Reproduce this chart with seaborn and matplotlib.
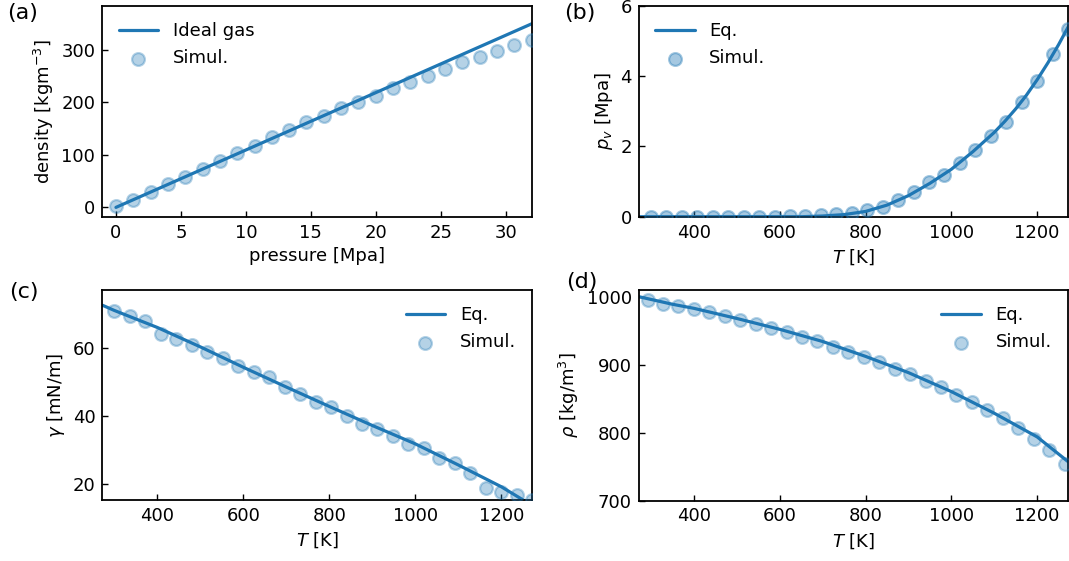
import matplotlib
matplotlib.use("Agg")
import matplotlib.pyplot as plt
import seaborn as sns
import pandas as pd

# ---------------- data ----------------
# (a) density vs pressure
pressure_sim = [0, 1.33, 2.67, 4, 5.33, 6.67, 8, 9.33, 10.67, 12, 13.33, 14.67, 16,
                17.33, 18.67, 20, 21.33, 22.67, 24, 25.33, 26.67, 28, 29.33, 30.67, 32]
density_sim = [3, 15, 29, 44.5, 58.5, 74, 89, 103, 117.6, 133.5, 147.5, 162, 175,
               189, 201, 213, 227, 240, 251, 264, 276.5, 287, 299, 310, 319]
pressure_line = [0, 32]
density_ideal = [0, 350]

# (b) vapour pressure vs T
T_sim = [300, 336, 372, 408, 444, 480, 516, 552, 588, 624, 660, 696, 732, 768,
         804, 840, 876, 912, 948, 984, 1020, 1056, 1092, 1128, 1164, 1200, 1236, 1272]
pv_sim = [0, 0, 0, 0, 0, 0, 0, 0, 0, 0.02, 0.02, 0.04, 0.07, 0.12,
          0.19, 0.28, 0.47, 0.69, 0.99, 1.19, 1.54, 1.90, 2.30, 2.71, 3.28, 3.87, 4.63, 5.35]
T_line_b = [273, 650, 700, 750, 800, 850, 900, 950, 1000, 1050, 1100, 1125, 1150,
            1175, 1200, 1225, 1250, 1273]
pv_line = [0, 0, 0.02, 0.06, 0.15, 0.33, 0.60, 0.95, 1.35, 1.85, 2.40, 2.72, 3.07,
           3.46, 3.90, 4.38, 4.90, 5.42]

# (c) surface tension vs T
gamma_sim = [70.8, 69.3, 67.8, 64.2, 62.7, 60.8, 58.8, 56.9, 54.6, 53.0, 51.5, 48.4,
             46.4, 44.1, 42.7, 40.0, 37.5, 36.1, 34.1, 31.7, 30.5, 27.5, 26.2, 23.1,
             18.7, 17.7, 16.9, 15.2]
T_line_c = [273, 300, 400, 500, 600, 700, 800, 900, 1000, 1100, 1200, 1273]
gamma_line = [72.5, 71.0, 66.0, 60.3, 54.3, 48.5, 42.8, 37.2, 31.8, 25.6, 19.2, 13.6]

# (d) liquid density vs T
T_sim_d = [292, 328, 364, 400, 436, 472, 508, 544, 580, 616, 652, 688, 724, 760,
           796, 832, 868, 904, 940, 976, 1012, 1048, 1084, 1120, 1156, 1192, 1228, 1264]
rho_sim = [996, 991, 988, 983, 978, 973, 967, 961, 955, 949, 942, 935, 927, 920,
           912, 904, 895, 887, 877, 867, 856, 845, 834, 822, 807, 791, 775, 754]
T_line_d = [273, 350, 400, 500, 600, 700, 800, 900, 1000, 1100, 1200, 1273]
rho_line = [1001, 990, 984, 969, 953, 935, 913, 889, 861, 829, 794, 757]

# ---------------- style ----------------
sns.set_theme(style="ticks")
plt.rcParams.update({
    "font.family": ["DejaVu Sans"],
    "font.size": 13,
    "axes.labelsize": 13,
    "xtick.labelsize": 13,
    "ytick.labelsize": 13,
    "legend.fontsize": 13,
    "xtick.direction": "in",
    "ytick.direction": "in",
    "xtick.major.size": 4.5,
    "ytick.major.size": 4.5,
    "xtick.major.width": 1.0,
    "ytick.major.width": 1.0,
    "xtick.major.pad": 5,
    "ytick.major.pad": 5,
    "axes.edgecolor": "black",
    "axes.linewidth": 1.3,
    "xtick.color": "black",
    "ytick.color": "black",
    "axes.labelcolor": "black",
    "text.color": "black",
    "mathtext.fontset": "dejavusans",
})

blue = "#1f77b4"
fig = plt.figure(figsize=(10.69, 5.61), dpi=100)
ax_a = fig.add_axes([0.0957, 0.6137, 0.4022, 0.3756])
ax_b = fig.add_axes([0.5977, 0.6137, 0.4014, 0.3756])
ax_c = fig.add_axes([0.0957, 0.1087, 0.4022, 0.3743])
ax_d = fig.add_axes([0.5977, 0.1078, 0.4014, 0.3752])


def draw(ax, xl, yl, line_label, xs, ys, alpha=0.33):
    sns.lineplot(x=xl, y=yl, ax=ax, color=blue, linewidth=2.3, label=line_label,
                 sort=False)
    sns.scatterplot(x=xs, y=ys, ax=ax, color=blue, edgecolor=blue, linewidth=1.6,
                    alpha=alpha, s=85, label="Simul.", zorder=3)


draw(ax_a, pressure_line, density_ideal, "Ideal gas", pressure_sim, density_sim)
ax_a.set_xlim(-1.05, 32.05)
ax_a.set_ylim(-17.8, 384)
ax_a.set_xticks([0, 5, 10, 15, 20, 25, 30])
ax_a.set_yticks([0, 100, 200, 300])
ax_a.set_xlabel("pressure [Mpa]")
ax_a.set_ylabel("density [kgm$^{-3}$]")
ax_a.legend(loc="upper left", frameon=False, handlelength=2.2)

draw(ax_b, T_line_b, pv_line, "Eq.", T_sim, pv_sim, alpha=0.4)
ax_b.set_ylim(0, 6)
ax_b.set_yticks([0, 2, 4, 6])
ax_b.set_ylabel("$p_v$ [Mpa]")
ax_b.legend(loc="upper left", frameon=False, handlelength=2.2)

draw(ax_c, T_line_c, gamma_line, "Eq.", T_sim, gamma_sim)
ax_c.set_ylim(15.3, 77)
ax_c.set_yticks([20, 40, 60])
ax_c.set_ylabel("$\\gamma$ [mN/m]")
ax_c.legend(loc="upper right", frameon=False, handlelength=2.2)

draw(ax_d, T_line_d, rho_line, "Eq.", T_sim_d, rho_sim)
ax_d.set_ylim(700, 1011)
ax_d.set_yticks([700, 800, 900, 1000])
ax_d.set_ylabel("$\\rho$ [kg/m$^3$]")
ax_d.legend(loc="upper right", frameon=False, handlelength=2.2)

for ax in (ax_b, ax_c, ax_d):
    ax.set_xlim(272, 1272)
    ax.set_xticks([400, 600, 800, 1000, 1200])
    ax.set_xlabel("$T$ [K]")

for ax in (ax_a, ax_b, ax_c, ax_d):
    for sp in ax.spines.values():
        sp.set_visible(True)
        sp.set_color("black")
    ax.tick_params(top=False, right=False)

fig.text(0.007, 0.995, "(a)", fontsize=16, va="top", ha="left")
fig.text(0.528, 0.995, "(b)", fontsize=16, va="top", ha="left")
fig.text(0.009, 0.497, "(c)", fontsize=16, va="top", ha="left")
fig.text(0.530, 0.515, "(d)", fontsize=16, va="top", ha="left")

fig.savefig("out.png", dpi=100)
